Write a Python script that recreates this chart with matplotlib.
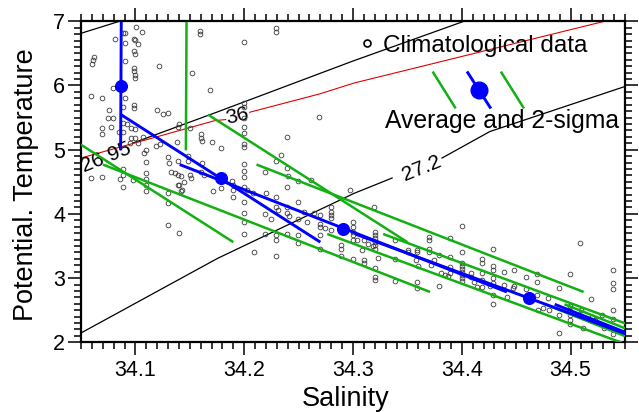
import numpy as np
import matplotlib
matplotlib.use("Agg")
import matplotlib.pyplot as plt
from matplotlib.ticker import MultipleLocator
from matplotlib.lines import Line2D

plt.rcParams['font.family'] = ['Liberation Sans', 'DejaVu Sans']

# ---- climatological (salinity, potential temperature) observations ----
clim_sal = [
    34.101, 34.106, 34.081, 34.090, 34.090, 34.099, 34.102, 34.099, 34.100, 34.090,
    34.062, 34.061, 34.060, 34.099, 34.099, 34.100, 34.100, 34.122, 34.152, 34.169,
    34.079, 34.059, 34.069, 34.090, 34.099, 34.099, 34.120, 34.125, 34.130, 34.076,
    34.075, 34.092, 34.079, 34.069, 34.069, 34.078, 34.085, 34.096, 34.096, 34.100,
    34.095, 34.119, 34.123, 34.140, 34.139, 34.150, 34.160, 34.160, 34.161, 34.102,
    34.108, 34.110, 34.130, 34.131, 34.139, 34.133, 34.136, 34.139, 34.142, 34.148,
    34.151, 34.160, 34.163, 34.110, 34.059, 34.069, 34.089, 34.098, 34.089, 34.100,
    34.089, 34.100, 34.107, 34.110, 34.089, 34.089, 34.086, 34.089, 34.089, 34.110,
    34.110, 34.138, 34.159, 34.159, 34.229, 34.229, 34.200, 34.269, 34.239, 34.234,
    34.170, 34.179, 34.148, 34.161, 34.150, 34.142, 34.139, 34.171, 34.179, 34.200,
    34.208, 34.200, 34.220, 34.229, 34.239, 34.249, 34.261, 34.240,
    34.200, 34.200, 34.200, 34.200, 34.200, 34.200, 34.200, 34.200, 34.200, 34.200,
    34.229, 34.239, 34.219, 34.249, 34.189,
    34.110, 34.130, 34.130, 34.140, 34.145, 34.143, 34.130, 34.140,
    34.190, 34.190, 34.190, 34.203, 34.200, 34.200, 34.200,
    34.219, 34.229, 34.231, 34.225, 34.209, 34.229, 34.219, 34.229, 34.229, 34.239,
    34.239, 34.241, 34.255, 34.249, 34.249, 34.249, 34.239, 34.258, 34.264,
    34.270, 34.270, 34.270, 34.270, 34.270, 34.274,
    34.280, 34.280, 34.280, 34.280, 34.280,
    34.289, 34.289, 34.289, 34.297,
    34.300, 34.300, 34.300, 34.300, 34.300, 34.300,
    34.319, 34.304, 34.310, 34.314, 34.318, 34.308, 34.310, 34.310, 34.323,
    34.320, 34.320, 34.320, 34.320, 34.320, 34.320, 34.320, 34.320, 34.320,
    34.339, 34.339, 34.339,
    34.351, 34.351, 34.359, 34.359, 34.358, 34.360, 34.359, 34.359,
    34.370, 34.370, 34.370, 34.370, 34.374, 34.372, 34.379, 34.379,
    34.381, 34.385, 34.387, 34.389, 34.389, 34.389, 34.389,
    34.400, 34.400, 34.400, 34.400, 34.400, 34.400, 34.400, 34.400, 34.400,
    34.408, 34.408, 34.411, 34.414, 34.419, 34.419, 34.419, 34.419, 34.419, 34.426,
    34.429, 34.429, 34.429, 34.429, 34.429, 34.429, 34.429,
    34.439, 34.439, 34.442, 34.448, 34.448, 34.447, 34.459, 34.459, 34.469, 34.469,
    34.469, 34.470, 34.479, 34.475, 34.480, 34.489, 34.489, 34.489, 34.499,
    34.499, 34.499, 34.499, 34.499, 34.499,
    34.509, 34.510, 34.511, 34.519, 34.520, 34.529, 34.531, 34.522,
    34.539, 34.539, 34.539, 34.539, 34.539, 34.539,
]
clim_temp = [
    6.91, 6.83, 6.73, 6.82, 6.66, 6.73, 6.65, 6.54, 6.49, 6.38,
    6.44, 6.39, 6.33, 6.27, 6.22, 6.16, 6.11, 6.30, 6.19, 5.93,
    5.96, 5.83, 5.81, 5.81, 5.69, 5.65, 5.62, 5.56, 5.57, 5.62,
    5.49, 5.40, 5.49, 5.34, 5.24, 5.35, 5.28, 5.34, 5.19, 5.19,
    5.10, 5.05, 5.09, 5.40, 5.35, 5.34, 5.24, 5.19, 5.14, 5.10,
    4.95, 4.81, 4.88, 4.79, 4.82, 4.66, 4.64, 4.61, 4.59, 4.83,
    4.56, 4.66, 4.61, 4.64, 4.56, 4.57, 4.61, 4.53, 6.81, 6.71,
    5.67, 5.33, 5.20, 5.00, 5.41, 5.28, 4.55, 4.42, 4.70, 4.55,
    4.36, 5.12, 6.85, 6.80, 6.90, 6.83, 6.68, 5.51, 5.20, 4.92,
    5.12, 5.02, 4.90, 4.79, 4.61, 4.36, 4.45, 4.36, 4.40, 4.42,
    4.33, 4.19, 4.33, 4.11, 4.42, 4.18, 4.53, 4.59,
    5.73, 5.66, 5.49, 5.36, 5.26, 5.09, 5.04, 4.78, 4.67, 4.58,
    4.83, 4.72, 4.65, 4.52, 4.52,
    4.45, 4.33, 4.17, 4.45, 4.50, 4.37, 3.83, 3.71,
    4.45, 4.37, 4.27, 4.38, 4.01, 3.88, 3.68,
    4.00, 4.27, 4.06, 3.92, 3.41, 3.34, 3.69, 3.67, 3.60, 4.11,
    4.01, 3.96, 4.03, 3.92, 3.67, 3.54, 3.69, 3.88, 4.01,
    3.98, 3.85, 3.80, 3.67, 3.46, 3.78,
    4.11, 4.03, 3.98, 3.94, 3.75,
    3.52, 3.46, 3.34, 4.38,
    3.88, 3.80, 3.72, 3.67, 3.59, 3.29,
    4.10, 3.59, 3.60, 3.53, 3.50, 3.44, 3.28, 3.23, 3.31,
    3.72, 3.67, 3.62, 3.57, 3.51, 3.45, 3.15, 3.02, 2.97,
    3.59, 3.29, 2.96,
    3.44, 3.40, 3.44, 3.40, 3.28, 3.19, 2.94, 2.85,
    3.64, 3.60, 3.45, 3.40, 3.28, 3.20, 3.36, 2.88,
    3.08, 3.05, 3.04, 3.08, 3.33, 3.62, 3.18,
    3.24, 3.19, 3.14, 3.10, 3.05, 3.00, 2.95, 3.81, 3.41,
    3.08, 3.01, 2.94, 2.86, 3.29, 3.24, 3.08, 2.97, 2.86, 2.87,
    3.46, 3.19, 3.12, 3.00, 2.92, 2.74, 2.60,
    3.10, 2.89, 2.71, 3.13, 2.88, 2.84, 3.01, 2.83, 3.06, 2.94,
    2.74, 2.50, 2.69, 2.53, 2.50, 2.84, 2.43, 2.15, 3.06,
    2.57, 2.49, 2.43, 2.35, 2.29,
    3.54, 2.50, 2.22, 2.67, 2.40, 2.43, 2.22, 2.35,
    3.13, 2.93, 2.83, 2.51, 2.36, 2.13,
]

# ---- bin averages and fitted T-S segments (warm end -> cold end) ----
bin_mean_sal = [34.0867, 34.179, 34.2904, 34.462, 34.634]
bin_mean_temp = [5.99, 4.555, 3.760, 2.685, 1.592]
seg_sal_warm = [34.0870, 34.0867, 34.1407, 34.3020, 34.4854]
seg_temp_warm = [6.99, 5.547, 4.769, 3.687, 2.592]
seg_sal_cold = [34.0864, 34.2700, 34.4414, 34.6220, 34.7830]
seg_temp_cold = [4.99, 3.560, 2.784, 1.685, 0.592]
two_sigma_sal = [0.060, 0.080, 0.0706, 0.0257, 0.009]

# ---- isopycnal lines (nan marks where a label interrupts the line) ----
iso_a_sal = [34.040, 34.050, 34.0842, 34.090]
iso_a_temp = [6.66, 6.813, 6.994, 7.03]
iso_2695_sal = [34.0977, 34.1728, 34.2993, 34.4001, 34.410]
iso_2695_temp = [5.104, 5.572, 6.377, 6.989, 7.05]
iso_red_sal = [34.040, 34.050, 34.1728, 34.183, np.nan, 34.205, 34.2691, 34.3011, 34.5285, 34.540]
iso_red_temp = [4.84, 4.871, 5.452, 5.47, np.nan, 5.583, 5.868, 6.039, 6.989, 7.04]
iso_272_sal = [34.040, 34.050, 34.1756, 34.3011, 34.336, np.nan, 34.3818, 34.4258, 34.5486, 34.560]
iso_272_temp = [2.05, 2.145, 3.308, 4.321, 4.559, np.nan, 4.870, 5.283, 5.977, 6.04]

iso_labels = ["26.95", "36", "27.2"]
iso_label_sal = [34.0734, 34.1939, 34.3635]
iso_label_temp = [4.878, 5.517, 4.715]
iso_label_rot = [22, 13, 22]

GREEN = '#12b012'
BLUE = '#0000ff'

fig = plt.figure(figsize=(6.39, 4.12), dpi=100)
ax = fig.add_axes([81 / 639, 1 - 342.3 / 412, 544 / 639, 321 / 412])

# isopycnals
ax.plot(iso_a_sal, iso_a_temp, color='black', lw=0.9, zorder=1)
ax.plot(iso_2695_sal, iso_2695_temp, color='black', lw=0.9, zorder=1)
ax.plot(iso_red_sal, iso_red_temp, color='#e00000', lw=0.8, zorder=1)
ax.plot(iso_272_sal, iso_272_temp, color='black', lw=0.9, zorder=1)
for txt, s, t, r in zip(iso_labels, iso_label_sal, iso_label_temp, iso_label_rot):
    ax.text(s, t, txt, fontsize=15, rotation=r, rotation_mode='anchor',
            ha='center', va='center', zorder=1.5)

# climatological data
ax.plot(clim_sal, clim_temp, linestyle='none', marker='o', ms=3.4,
        mfc='none', mec='#3a3a3a', mew=0.6, zorder=2)

# 2-sigma bands and averages
for sw, tw, sc, tc, d in zip(seg_sal_warm, seg_temp_warm, seg_sal_cold,
                             seg_temp_cold, two_sigma_sal):
    for sign in (-1, 1):
        ax.plot([sw + sign * d, sc + sign * d], [tw, tc], color=GREEN,
                lw=1.8, solid_capstyle='butt', zorder=3)
for sw, tw, sc, tc in zip(seg_sal_warm, seg_temp_warm, seg_sal_cold, seg_temp_cold):
    ax.plot([sw, sc], [tw, tc], color=BLUE, lw=2.1, solid_capstyle='butt', zorder=4)
ax.plot(bin_mean_sal, bin_mean_temp, linestyle='none', marker='o', ms=8.4,
        color=BLUE, zorder=5)

ax.set_xlim(34.05, 34.55)
ax.set_ylim(2, 7)

# legend drawn inside the axes
ax.plot([0.525], [0.931], transform=ax.transAxes, marker='o', ms=5,
        mfc='none', mec='black', mew=1.2, linestyle='none', zorder=6)
ax.text(0.555, 0.904, "Climatological data", transform=ax.transAxes,
        fontsize=17.5, ha='left', va='baseline', zorder=6)
ax.add_line(Line2D([0.6476, 0.6875], [0.840, 0.732], transform=ax.transAxes,
                   color=GREEN, lw=1.8, zorder=6))
ax.add_line(Line2D([0.711, 0.752], [0.840, 0.732], transform=ax.transAxes,
                   color=BLUE, lw=2.1, zorder=6))
ax.plot([0.7315], [0.786], transform=ax.transAxes, marker='o', ms=12,
        color=BLUE, linestyle='none', zorder=7)
ax.add_line(Line2D([0.773, 0.813], [0.840, 0.732], transform=ax.transAxes,
                   color=GREEN, lw=1.8, zorder=6))
ax.text(0.559, 0.667, "Average and 2-sigma", transform=ax.transAxes,
        fontsize=17.8, ha='left', va='baseline', zorder=6)

# axes styling
ax.xaxis.set_major_locator(MultipleLocator(0.1))
ax.xaxis.set_minor_locator(MultipleLocator(0.01))
ax.yaxis.set_major_locator(MultipleLocator(1))
ax.yaxis.set_minor_locator(MultipleLocator(0.1))
ax.tick_params(which='both', direction='out', top=True, right=True,
               labeltop=False, labelright=False, width=1.1, colors='black')
ax.tick_params(which='major', length=9.5, labelsize=15.5, pad=2)
ax.tick_params(which='minor', length=4.8)
ax.tick_params(axis='x', which='major', pad=3)
ax.set_xticks([34.1, 34.2, 34.3, 34.4, 34.5])
ax.set_xticklabels(["34.1", "34.2", "34.3", "34.4", "34.5"])
ax.set_yticks([2, 3, 4, 5, 6, 7])
ax.set_yticklabels(["2", "3", "4", "5", "6", "7"])
for sp in ax.spines.values():
    sp.set_linewidth(1.6)

ax.set_xlabel("Salinity", fontsize=19.5, labelpad=2)
ax.xaxis.set_label_coords(0.487, -0.135)
ax.set_ylabel("Potential. Temperature", fontsize=19.5)
ax.yaxis.set_label_coords(-0.078, 0.49)

fig.savefig("out.png", dpi=100)
